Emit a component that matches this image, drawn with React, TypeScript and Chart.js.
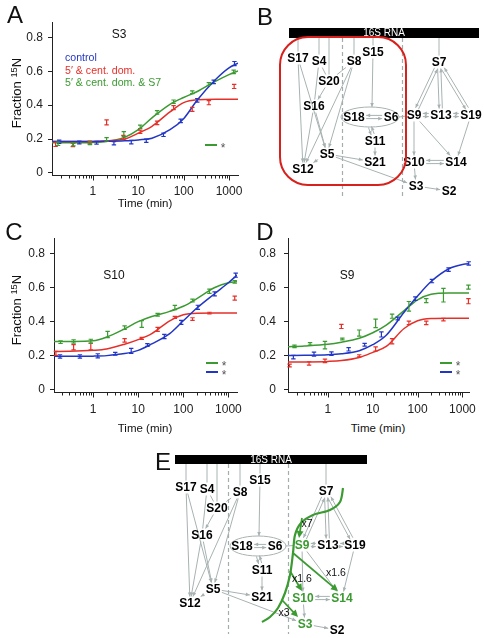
import React, { useEffect, useRef } from 'react';
import { Chart, registerables } from 'chart.js';

Chart.register(...registerables);

const FONT = "'Liberation Sans', Arial, Helvetica, sans-serif";
const BLUE = '#2236c6';
const RED = '#e5302a';
const GREEN = '#3b9a31';
const AXIS = '#222';
const EDGE = '#a8b2b2';

// ---------------- data: panel A (S3) ----------------
const aControlTimes = [0.18, 0.5, 1.2, 2.9, 7, 15, 36, 86, 200, 460, 1320];
const aControlValues = [0.184, 0.18, 0.178, 0.175, 0.182, 0.19, 0.225, 0.307, 0.428, 0.537, 0.645];
const aControlErr = [0.01, 0.008, 0.008, 0.01, 0.01, 0.01, 0.01, 0.01, 0.01, 0.01, 0.012];
const aDomTimes = [0.15, 0.36, 0.85, 2, 4.7, 11, 26, 60, 155, 360, 1300];
const aDomValues = [0.168, 0.165, 0.18, 0.298, 0.21, 0.243, 0.295, 0.385, 0.375, 0.414, 0.51];
const aDomErr = [0.012, 0.01, 0.008, 0.015, 0.012, 0.01, 0.01, 0.012, 0.012, 0.012, 0.012];
const aS7Times = [0.17, 0.37, 0.86, 2, 4.8, 11, 26, 60, 155, 360, 1270];
const aS7Values = [0.172, 0.168, 0.175, 0.198, 0.229, 0.272, 0.357, 0.42, 0.476, 0.524, 0.596];
const aS7Err = [0.01, 0.008, 0.008, 0.01, 0.015, 0.01, 0.01, 0.01, 0.008, 0.008, 0.01];

// fitted curves, read at these times
const fitTimes = [0.12, 0.3, 1, 2, 5, 10, 20, 50, 100, 200, 500, 1000, 1600];
const aControlFit = [0.185, 0.185, 0.186, 0.187, 0.19, 0.195, 0.205, 0.255, 0.32, 0.43, 0.55, 0.62, 0.648];
const aDomFit = [0.185, 0.185, 0.186, 0.19, 0.2, 0.235, 0.275, 0.36, 0.415, 0.432, 0.435, 0.435, 0.435];
const aS7Fit = [0.178, 0.178, 0.18, 0.186, 0.21, 0.255, 0.325, 0.405, 0.445, 0.48, 0.54, 0.58, 0.602];

// ---------------- data: panel C (S10) ----------------
const cControlTimes = [0.185, 0.51, 1.27, 3.1, 7, 16, 38, 90, 210, 495, 1450];
const cControlValues = [0.196, 0.196, 0.2, 0.212, 0.229, 0.263, 0.313, 0.396, 0.484, 0.563, 0.672];
const cControlErr = [0.01, 0.01, 0.012, 0.008, 0.015, 0.008, 0.012, 0.012, 0.012, 0.012, 0.012];
const cDomTimes = [0.15, 0.37, 0.89, 5, 12, 27, 65, 160, 380, 1380];
const cDomValues = [0.214, 0.25, 0.255, 0.29, 0.302, 0.355, 0.425, 0.415, 0.45, 0.538];
const cDomErr = [0.012, 0.015, 0.02, 0.01, 0.006, 0.012, 0.006, 0.008, 0.005, 0.012];
const cS7Times = [0.19, 0.37, 0.89, 2.1, 5, 12, 27, 65, 160, 380, 1380];
const cS7Values = [0.28, 0.284, 0.285, 0.325, 0.365, 0.386, 0.44, 0.483, 0.524, 0.578, 0.633];
const cS7Err = [0.008, 0.01, 0.012, 0.018, 0.01, 0.02, 0.008, 0.012, 0.008, 0.012, 0.008];
const cControlFit = [0.197, 0.197, 0.198, 0.201, 0.213, 0.232, 0.27, 0.33, 0.405, 0.48, 0.565, 0.628, 0.675];
const cDomFit = [0.225, 0.226, 0.232, 0.24, 0.268, 0.295, 0.33, 0.405, 0.44, 0.449, 0.45, 0.45, 0.45];
const cS7Fit = [0.283, 0.284, 0.288, 0.31, 0.358, 0.4, 0.43, 0.46, 0.49, 0.535, 0.6, 0.628, 0.634];

// ---------------- data: panel D (S9) ----------------
const dControlTimes = [0.17, 0.49, 1.2, 2.9, 6.6, 15.6, 36, 89, 209, 490, 1380];
const dControlValues = [0.192, 0.21, 0.213, 0.238, 0.265, 0.325, 0.418, 0.535, 0.638, 0.705, 0.741];
const dControlErr = [0.01, 0.012, 0.01, 0.01, 0.008, 0.015, 0.008, 0.01, 0.01, 0.01, 0.01];
const dDomTimes = [0.14, 0.38, 0.86, 2, 5, 11.6, 27, 64, 156, 377, 1360];
const dDomValues = [0.143, 0.155, 0.17, 0.372, 0.2, 0.24, 0.285, 0.393, 0.393, 0.412, 0.52];
const dDomErr = [0.008, 0.01, 0.01, 0.012, 0.006, 0.012, 0.015, 0.01, 0.01, 0.008, 0.015];
const dS7Times = [0.18, 0.4, 0.86, 2.1, 5, 11.6, 27, 64, 156, 377, 1360];
const dS7Values = [0.255, 0.27, 0.262, 0.298, 0.333, 0.39, 0.432, 0.49, 0.523, 0.555, 0.602];
const dS7Err = [0.007, 0.007, 0.022, 0.005, 0.018, 0.025, 0.012, 0.028, 0.012, 0.04, 0.012];
const dControlFit = [0.202, 0.203, 0.206, 0.212, 0.23, 0.265, 0.32, 0.455, 0.55, 0.635, 0.71, 0.735, 0.74];
const dDomFit = [0.163, 0.164, 0.167, 0.172, 0.19, 0.22, 0.255, 0.36, 0.405, 0.418, 0.42, 0.42, 0.42];
const dS7Fit = [0.253, 0.258, 0.268, 0.28, 0.303, 0.335, 0.38, 0.465, 0.528, 0.56, 0.568, 0.568, 0.568];

const yTicks = [0, 0.2, 0.4, 0.6, 0.8];
const xTickLabels = [1, 10, 100, 1000];

// ---------------- network diagram (assembly map) ----------------
const proteins = ['S17', 'S4', 'S20', 'S8', 'S15', 'S16', 'S18', 'S6', 'S11', 'S5', 'S21', 'S12', 'S7', 'S9', 'S13', 'S19', 'S10', 'S14', 'S3', 'S2'];
const dependencies = [
  'b17-S17', 'b4-S4', 'b20-S20', 'b8-S8', 'b15-S15', 'b7-S7',
  'S4-S20', 'S8-S20', 'S20>S16',
  'S17>S12', 'S17>S5', 'S4-S16', 'S16>S12', 'S16>S5', 'S8>S12', 'S8>S5',
  'S5>S12', 'S5>S21', 'S5>S3',
  'S15>eT', 'S18=S6', 'eB=S11', 'S11>S21', 'eR-S9',
  'S7=S9', 'S7=S13', 'S7=S19', 'S9=S13', 'S13=S19',
  'S9>S10', 'S9>S14', 'S19>S14', 'S10=S14', 'S10>S3', 'S3>S2',
];
const eHighlighted = ['S9', 'S10', 'S14', 'S3'];
const eFactors = ['x7', 'x1.6', 'x1.6', 'x3'];

// layout tables (page coordinates)
const bPos: Record<string, number[]> = {
  S17: [298, 58], S4: [319, 61], S20: [329, 81], S8: [354, 61], S15: [373, 52], S16: [314, 106],
  S18: [354, 117], S6: [391, 117], S11: [375, 141], S5: [327, 154], S21: [375, 162], S12: [303, 169],
  S7: [439, 62], S9: [414, 115], S13: [441, 115], S19: [471, 115], S10: [414, 162], S14: [456, 162],
  S3: [416, 186], S2: [449, 191],
  b17: [298, 38], b4: [319, 38], b20: [329, 38], b8: [354, 38], b15: [373, 38], b7: [439, 38],
  eT: [372, 107], eB: [370, 127], eR: [399, 117],
};
const ePos: Record<string, number[]> = {
  S17: [186, 487], S4: [207, 489], S20: [217, 508], S8: [240, 492], S15: [260, 480], S16: [202, 535],
  S18: [242, 546], S6: [275, 546], S11: [262, 570], S5: [213, 589], S21: [262, 597], S12: [190, 603],
  S7: [326, 491], S9: [302, 545], S13: [328, 545], S19: [355, 545], S10: [303, 598], S14: [342, 598],
  S3: [305, 624], S2: [337, 630],
  b17: [186, 464], b4: [207, 464], b20: [217, 464], b8: [240, 464], b15: [260, 464], b7: [326, 464],
  eT: [259, 536], eB: [258, 556], eR: [286, 546],
};
const eCurve = [[343, 488], [340, 502], [330, 510], [313, 515], [301, 523], [295, 535], [293, 553], [290, 575], [285, 593], [278, 608], [270, 617], [262, 622]];
const eArrows = [[302, 518, 299, 538], [293, 553, 338, 591], [290, 571, 302, 591], [282, 600, 298, 617]];
const eFactorPos = [[307, 524], [336, 573], [302, 579], [284, 613]];

function Txt(p: any) {
  const { x, y, children, size = 12, color = '#111', weight = 400, align = 'center', rotate = 0 } = p;
  const tx = align === 'center' ? '-50%' : align === 'left' ? '0%' : '-100%';
  return (
    <div style={{ position: 'absolute', left: x, top: y, transform: `translate(${tx},-50%) rotate(${rotate}deg)`, fontSize: size, color, fontWeight: weight, whiteSpace: 'nowrap', lineHeight: 1, fontFamily: FONT }}>
      {children}
    </div>
  );
}

function LogPlot(p: any) {
  const ref = useRef<HTMLCanvasElement>(null);
  useEffect(() => {
    const yWidth = p.area.l - p.left;
    const xHeight = p.top + p.height - p.area.b;
    const plugin = {
      id: 'errbars',
      afterDatasetsDraw(chart: any) {
        const ctx = chart.ctx;
        const xs = chart.scales.x;
        const ys = chart.scales.y;
        ctx.save();
        ctx.lineWidth = 1.2;
        p.series.forEach((s: any) => {
          ctx.strokeStyle = s.color;
          s.times.forEach((t: number, i: number) => {
            const v = s.values[i];
            const e = s.errors[i];
            const px = xs.getPixelForValue(t);
            const y1 = ys.getPixelForValue(v - e);
            const y2 = ys.getPixelForValue(v + e);
            ctx.beginPath();
            ctx.moveTo(px, y1); ctx.lineTo(px, y2);
            ctx.moveTo(px - 2.2, y1); ctx.lineTo(px + 2.2, y1);
            ctx.moveTo(px - 2.2, y2); ctx.lineTo(px + 2.2, y2);
            ctx.stroke();
          });
        });
        ctx.restore();
      },
      afterDraw(chart: any) {
        const ctx = chart.ctx;
        const xs = chart.scales.x;
        const b = chart.chartArea.bottom;
        ctx.save();
        ctx.strokeStyle = AXIS;
        ctx.lineWidth = 1;
        for (let e = -1; e <= 3; e++) {
          for (let k = 1; k <= 9; k++) {
            const v = k * Math.pow(10, e);
            if (v < p.xMin || v > p.xMax) continue;
            const px = Math.round(xs.getPixelForValue(v)) + 0.5;
            ctx.beginPath();
            ctx.moveTo(px, b);
            ctx.lineTo(px, b + (k === 1 ? 5 : 3));
            ctx.stroke();
          }
        }
        ctx.restore();
      },
    };
    const datasets = p.curves.map((c: any) => ({
      data: c.times.map((t: number, i: number) => ({ x: t, y: c.values[i] })),
      borderColor: c.color,
      borderWidth: 1.5,
      pointRadius: 0,
      cubicInterpolationMode: 'monotone',
      fill: false,
    }));
    const chart = new Chart(ref.current as any, {
      type: 'line',
      data: { datasets },
      options: {
        animation: false,
        responsive: false,
        events: [],
        layout: { padding: { top: p.area.t - p.top, right: p.left + p.width - p.area.r, left: 0, bottom: 0 } },
        plugins: { legend: { display: false }, tooltip: { enabled: false } },
        scales: {
          x: {
            type: 'logarithmic', min: p.xMin, max: p.xMax,
            afterBuildTicks: (s: any) => { s.ticks = xTickLabels.map((v) => ({ value: v })); },
            afterFit: (s: any) => { s.height = xHeight; s.paddingLeft = 0; s.paddingRight = 0; },
            grid: { drawOnChartArea: false, drawTicks: false },
            border: { color: AXIS, width: 1 },
            ticks: { autoSkip: false, maxRotation: 0, padding: p.xPad, color: AXIS, font: { family: FONT, size: 12 }, callback: (v: any) => String(v) },
          },
          y: {
            type: 'linear', min: -0.015, max: 0.89,
            afterBuildTicks: (s: any) => { s.ticks = yTicks.map((v) => ({ value: v })); },
            afterFit: (s: any) => { s.width = yWidth; s.paddingTop = 0; s.paddingBottom = 0; },
            grid: { drawOnChartArea: false, drawTicks: true, tickLength: 4, tickColor: AXIS },
            border: { color: AXIS, width: 1 },
            ticks: { padding: p.yPad, color: AXIS, font: { family: FONT, size: 12 }, callback: (v: any) => (v === 0 ? '0' : Number(v).toFixed(1)) },
          },
        },
      } as any,
      plugins: [plugin],
    });
    return () => chart.destroy();
  }, []);
  return <canvas ref={ref} width={p.width} height={p.height} style={{ position: 'absolute', left: p.left, top: p.top, width: p.width, height: p.height }} />;
}

function Diagram(p: any) {
  const ref = useRef<HTMLCanvasElement>(null);
  useEffect(() => {
    const pos = p.pos;
    const ids = Object.keys(pos);
    const plugin = {
      id: 'network',
      afterDraw(chart: any) {
        const ctx = chart.ctx;
        const X = (v: number) => chart.scales.x.getPixelForValue(v);
        const Y = (v: number) => chart.scales.y.getPixelForValue(v);
        ctx.save();
        // rRNA bar
        ctx.fillStyle = '#000';
        ctx.fillRect(X(p.bar[0]), Y(p.bar[1]), X(p.bar[2]) - X(p.bar[0]), Y(p.bar[3]) - Y(p.bar[1]));
        ctx.fillStyle = '#fff';
        ctx.font = `10px ${FONT}`;
        ctx.textAlign = 'center';
        ctx.textBaseline = 'middle';
        ctx.fillText('16S RNA', X((p.bar[0] + p.bar[2]) / 2), Y((p.bar[1] + p.bar[3]) / 2) + 0.5);
        // domain separators
        ctx.strokeStyle = '#a4acac';
        ctx.lineWidth = 1.2;
        ctx.setLineDash([4, 3]);
        p.dash.forEach((dx: number) => {
          ctx.beginPath();
          ctx.moveTo(Math.round(X(dx)) + 0.5, Y(p.dashY[0]));
          ctx.lineTo(Math.round(X(dx)) + 0.5, Y(p.dashY[1]));
          ctx.stroke();
        });
        ctx.setLineDash([]);
        // ellipse
        ctx.strokeStyle = EDGE;
        ctx.lineWidth = 1;
        ctx.beginPath();
        ctx.ellipse(X(p.ell[0]), Y(p.ell[1]), X(p.ell[0] + p.ell[2]) - X(p.ell[0]), Y(p.ell[1] + p.ell[3]) - Y(p.ell[1]), 0, 0, Math.PI * 2);
        ctx.stroke();
        // boxes
        ctx.font = `bold 12px ${FONT}`;
        const box: Record<string, number[]> = {};
        ids.forEach((id) => {
          const isNode = proteins.indexOf(id) >= 0;
          const w = isNode ? ctx.measureText(id).width / 2 + 1.5 : 0;
          box[id] = [X(pos[id][0]), Y(pos[id][1]), w, isNode ? 6.5 : 0];
        });
        const clip = (b: number[], dx: number, dy: number) => {
          if (b[2] === 0) return [b[0], b[1]];
          const tx = dx === 0 ? Infinity : b[2] / Math.abs(dx);
          const ty = dy === 0 ? Infinity : b[3] / Math.abs(dy);
          const t = Math.min(tx, ty);
          return [b[0] + dx * t, b[1] + dy * t];
        };
        const head = (x: number, y: number, ang: number, len: number, hw: number) => {
          ctx.beginPath();
          ctx.moveTo(x, y);
          ctx.lineTo(x - len * Math.cos(ang) + hw * Math.sin(ang), y - len * Math.sin(ang) - hw * Math.cos(ang));
          ctx.lineTo(x - len * Math.cos(ang) - hw * Math.sin(ang), y - len * Math.sin(ang) + hw * Math.cos(ang));
          ctx.closePath();
          ctx.fill();
        };
        ctx.strokeStyle = EDGE;
        ctx.fillStyle = EDGE;
        ctx.lineWidth = 1;
        dependencies.forEach((d) => {
          const m = d.match(/^(\w+)([>=-])(\w+)$/);
          if (!m) return;
          const A = box[m[1]];
          const B = box[m[3]];
          const dx = B[0] - A[0];
          const dy = B[1] - A[1];
          const a = clip(A, dx, dy);
          const b = clip(B, -dx, -dy);
          const ang = Math.atan2(b[1] - a[1], b[0] - a[0]);
          if (m[2] === '=') {
            const ox = -Math.sin(ang) * 1.6;
            const oy = Math.cos(ang) * 1.6;
            ctx.beginPath();
            ctx.moveTo(a[0] + ox, a[1] + oy); ctx.lineTo(b[0] + ox, b[1] + oy);
            ctx.moveTo(a[0] - ox, a[1] - oy); ctx.lineTo(b[0] - ox, b[1] - oy);
            ctx.stroke();
            head(b[0] + ox, b[1] + oy, ang, 4, 1.8);
            head(a[0] - ox, a[1] - oy, ang + Math.PI, 4, 1.8);
          } else {
            ctx.beginPath();
            ctx.moveTo(a[0], a[1]); ctx.lineTo(b[0], b[1]);
            ctx.stroke();
            if (m[2] === '>') head(b[0], b[1], ang, 4, 1.8);
          }
        });
        // labels
        ctx.textAlign = 'center';
        ctx.textBaseline = 'middle';
        ctx.font = `bold 12px ${FONT}`;
        proteins.forEach((id) => {
          ctx.fillStyle = p.highlight && p.highlight.indexOf(id) >= 0 ? GREEN : '#000';
          ctx.fillText(id, X(pos[id][0]), Y(pos[id][1]) + 0.5);
        });
        // red domain outline
        if (p.red) {
          const [x1, y1, x2, y2, r] = p.red;
          ctx.strokeStyle = '#d8201c';
          ctx.lineWidth = 2;
          ctx.beginPath();
          (ctx as any).roundRect(X(x1), Y(y1), X(x2) - X(x1), Y(y2) - Y(y1), r);
          ctx.stroke();
        }
        // green pathway overlay
        if (p.curve) {
          const pts = p.curve.map((q: number[]) => [X(q[0]), Y(q[1])]);
          ctx.strokeStyle = GREEN;
          ctx.fillStyle = GREEN;
          ctx.lineWidth = 2.2;
          ctx.beginPath();
          ctx.moveTo(pts[0][0], pts[0][1]);
          for (let i = 0; i < pts.length - 1; i++) {
            const p0 = pts[i - 1] || pts[i];
            const p1 = pts[i];
            const p2 = pts[i + 1];
            const p3 = pts[i + 2] || p2;
            ctx.bezierCurveTo(p1[0] + (p2[0] - p0[0]) / 6, p1[1] + (p2[1] - p0[1]) / 6, p2[0] - (p3[0] - p1[0]) / 6, p2[1] - (p3[1] - p1[1]) / 6, p2[0], p2[1]);
          }
          ctx.stroke();
          ctx.lineWidth = 1.8;
          p.arrows.forEach((a: number[]) => {
            const x1 = X(a[0]), y1 = Y(a[1]), x2 = X(a[2]), y2 = Y(a[3]);
            const ang = Math.atan2(y2 - y1, x2 - x1);
            ctx.beginPath();
            ctx.moveTo(x1, y1);
            ctx.lineTo(x2 - 4 * Math.cos(ang), y2 - 4 * Math.sin(ang));
            ctx.stroke();
            head(x2, y2, ang, 7, 3.5);
          });
          ctx.fillStyle = '#111';
          ctx.font = `10.5px ${FONT}`;
          eFactors.forEach((f, i) => {
            ctx.fillText(f, X(p.factorPos[i][0]), Y(p.factorPos[i][1]));
          });
        }
        ctx.restore();
      },
    };
    const chart = new Chart(ref.current as any, {
      type: 'scatter',
      data: { datasets: [{ data: ids.map((id) => ({ x: pos[id][0], y: pos[id][1] })), pointRadius: 0 }] },
      options: {
        animation: false,
        responsive: false,
        events: [],
        layout: { padding: 0 },
        plugins: { legend: { display: false }, tooltip: { enabled: false } },
        scales: {
          x: { type: 'linear', display: false, min: p.left, max: p.left + p.width },
          y: { type: 'linear', display: false, min: p.top, max: p.top + p.height, reverse: true },
        },
      } as any,
      plugins: [plugin],
    });
    return () => chart.destroy();
  }, []);
  return <canvas ref={ref} width={p.width} height={p.height} style={{ position: 'absolute', left: p.left, top: p.top, width: p.width, height: p.height }} />;
}

function Star(p: any) {
  return (
    <>
      <div style={{ position: 'absolute', left: p.x, top: p.y - 0.6, width: 12, height: 1.3, background: p.color }} />
      <Txt x={p.x + 18} y={p.y + 3} size={12} color="#555">*</Txt>
    </>
  );
}

function YTitle(p: any) {
  return (
    <Txt x={p.x} y={p.y} size={13} color="#111" rotate={-90}>
      Fraction <span style={{ fontSize: '0.72em', position: 'relative', top: '-0.45em' }}>15</span>N
    </Txt>
  );
}

export default function App() {
  const sA = [
    { times: aControlTimes, values: aControlValues, errors: aControlErr, color: BLUE },
    { times: aDomTimes, values: aDomValues, errors: aDomErr, color: RED },
    { times: aS7Times, values: aS7Values, errors: aS7Err, color: GREEN },
  ];
  const fA = [
    { times: fitTimes, values: aControlFit, color: BLUE },
    { times: fitTimes, values: aDomFit, color: RED },
    { times: fitTimes, values: aS7Fit, color: GREEN },
  ];
  const sC = [
    { times: cControlTimes, values: cControlValues, errors: cControlErr, color: BLUE },
    { times: cDomTimes, values: cDomValues, errors: cDomErr, color: RED },
    { times: cS7Times, values: cS7Values, errors: cS7Err, color: GREEN },
  ];
  const fC = [
    { times: fitTimes, values: cControlFit, color: BLUE },
    { times: fitTimes, values: cDomFit, color: RED },
    { times: fitTimes, values: cS7Fit, color: GREEN },
  ];
  const sD = [
    { times: dControlTimes, values: dControlValues, errors: dControlErr, color: BLUE },
    { times: dDomTimes, values: dDomValues, errors: dDomErr, color: RED },
    { times: dS7Times, values: dS7Values, errors: dS7Err, color: GREEN },
  ];
  const fD = [
    { times: fitTimes, values: dControlFit, color: BLUE },
    { times: fitTimes, values: dDomFit, color: RED },
    { times: fitTimes, values: dS7Fit, color: GREEN },
  ];
  return (
    <div style={{ position: 'fixed', left: 0, top: 0, width: 484, height: 638, background: '#fff', overflow: 'hidden', fontFamily: FONT }}>
      <LogPlot left={0} top={0} width={244} height={212} area={{ l: 52, r: 238, t: 22, b: 175.5 }} xMin={0.125} xMax={1580} series={sA} curves={fA} xPad={9} yPad={5} />
      <LogPlot left={0} top={220} width={244} height={200} area={{ l: 54, r: 237, t: 238, b: 392.5 }} xMin={0.136} xMax={1550} series={sC} curves={fC} xPad={10} yPad={5} />
      <LogPlot left={246} top={220} width={236} height={200} area={{ l: 288, r: 469, t: 238, b: 392.5 }} xMin={0.129} xMax={1400} series={sD} curves={fD} xPad={10} yPad={8} />
      <Diagram left={255} top={0} width={229} height={205} pos={bPos} bar={[289, 28, 479, 38]} dash={[342, 402]} dashY={[38, 196]} ell={[370, 117, 29, 10]} red={[280, 37, 406, 185, 28]} />
      <Diagram left={160} top={440} width={220} height={198} pos={ePos} bar={[175, 455, 367, 464]} dash={[228, 288]} dashY={[464, 634]} ell={[258, 546, 28, 10]} highlight={eHighlighted} curve={eCurve} arrows={eArrows} factorPos={eFactorPos} />

      <Txt x={15} y={15} size={24}>A</Txt>
      <Txt x={265} y={17} size={24}>B</Txt>
      <Txt x={14} y={232} size={24}>C</Txt>
      <Txt x={265} y={232} size={24}>D</Txt>
      <Txt x={163} y={462} size={24}>E</Txt>

      <YTitle x={17} y={93} />
      <YTitle x={17} y={310} />
      <Txt x={145} y={204} size={11.5}>Time (min)</Txt>
      <Txt x={145} y={429} size={11.5}>Time (min)</Txt>
      <Txt x={378} y={429} size={11.5}>Time (min)</Txt>

      <Txt x={119} y={34} size={12}>S3</Txt>
      <Txt x={114} y={275} size={12}>S10</Txt>
      <Txt x={347} y={275} size={12}>S9</Txt>

      <Txt x={65} y={57} size={10.6} color={BLUE} align="left">control</Txt>
      <Txt x={65} y={69.5} size={10.6} color={RED} align="left">5′ &amp; cent. dom.</Txt>
      <Txt x={65} y={82} size={10.6} color={GREEN} align="left">5′ &amp; cent. dom. &amp; S7</Txt>

      <Star x={205} y={145} color={GREEN} />
      <Star x={206} y={363} color={GREEN} />
      <Star x={206} y={372} color={BLUE} />
      <Star x={440} y={363} color={GREEN} />
      <Star x={440} y={372} color={BLUE} />
    </div>
  );
}
